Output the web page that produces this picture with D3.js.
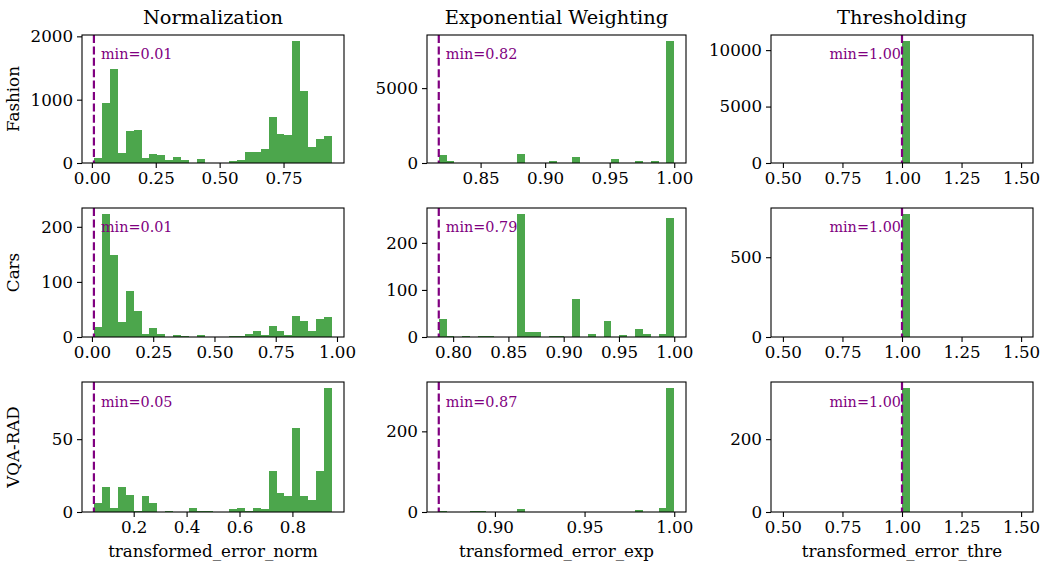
<!DOCTYPE html>
<html>
<head>
<meta charset="utf-8">
<script src="https://cdn.jsdelivr.net/npm/d3@7"></script>
<style>
	body { margin: 0; background: #fff; }
	svg { display: block; }
	text { font-family: "DejaVu Serif", serif; }
</style>
</head>
<body>
<div id="chart"></div>
<script>

/* --------------------- data ---------------------- */

let methods = ['Normalization', 'Exponential Weighting', 'Thresholding'];
let datasets = ['Fashion', 'Cars', 'VQA-RAD'];
let xLabels = ['transformed_error_norm', 'transformed_error_exp', 'transformed_error_thre'];

// histogram counts, 30 bins each
let fashionNorm = [80, 940, 1490, 160, 500, 520, 80, 150, 130, 40, 95, 40, 5, 60, 5, 5, 5, 25, 40, 170, 170, 220, 730, 465, 440, 1925, 1140, 260, 375, 420];
let fashionExp = [510, 110, 0, 0, 0, 0, 0, 0, 0, 0, 575, 0, 0, 0, 110, 0, 0, 376, 0, 0, 0, 0, 245, 0, 0, 110, 0, 110, 0, 8140];
let fashionThre = [0, 0, 0, 0, 0, 0, 0, 0, 0, 0, 0, 0, 0, 0, 0, 10800, 0, 0, 0, 0, 0, 0, 0, 0, 0, 0, 0, 0, 0, 0];

let carsNorm = [18, 223, 148, 27, 84, 47, 5, 16, 5, 0, 3, 2, 0, 3, 0, 0, 0, 1, 1, 5, 10, 4, 20, 10, 3, 38, 29, 10, 32, 36];
let carsExp = [38, 2, 0, 2, 0, 2, 2, 0, 0, 0, 261, 10, 10, 0, 2, 2, 0, 81, 0, 6, 0, 34, 0, 4, 0, 16, 6, 0, 6, 252];
let carsThre = [0, 0, 0, 0, 0, 0, 0, 0, 0, 0, 0, 0, 0, 0, 0, 770, 0, 0, 0, 0, 0, 0, 0, 0, 0, 0, 0, 0, 0, 0];

let vqaNorm = [6, 17, 3, 17, 12, 1, 11, 6, 0, 1, 0, 0, 3, 1, 1, 0, 0, 2, 3, 1, 3, 2, 28, 13, 11, 58, 11, 8, 28, 85];
let vqaExp = [2, 0, 0, 0, 2, 2, 0, 0, 0, 0, 7, 0, 0, 0, 0, 0, 0, 1, 1, 0, 0, 1, 1, 1, 1, 4, 0, 0, 10, 307];
let vqaThre = [0, 0, 0, 0, 0, 0, 0, 0, 0, 0, 0, 0, 0, 0, 0, 340, 0, 0, 0, 0, 0, 0, 0, 0, 0, 0, 0, 0, 0, 0];

// histogram range [lo, hi] of each panel (row by row)
let binRanges = [
	[0.008, 0.940], [0.8176, 1.0], [0.5, 1.5],
	[0.008, 0.980], [0.787, 1.0], [0.5, 1.5],
	[0.0496, 0.950], [0.8687, 1.0], [0.5, 1.5]
];
// smallest value in each panel (purple line)
let minValues = [0.008, 0.8176, 1.0, 0.008, 0.787, 1.0, 0.0496, 0.8687, 1.0];

// tick labels
let xTicks = [
	[0, 0.25, 0.5, 0.75], [0.85, 0.9, 0.95, 1.0], [0.5, 0.75, 1.0, 1.25, 1.5],
	[0, 0.25, 0.5, 0.75, 1.0], [0.8, 0.85, 0.9, 0.95, 1.0], [0.5, 0.75, 1.0, 1.25, 1.5],
	[0.2, 0.4, 0.6, 0.8], [0.9, 0.95, 1.0], [0.5, 0.75, 1.0, 1.25, 1.5]
];
let xTickFormats = ['.2f', '.2f', '.2f', '.2f', '.2f', '.2f', '.1f', '.2f', '.2f'];
let yTicks = [
	[0, 1000, 2000], [0, 5000], [0, 5000, 10000],
	[0, 100, 200], [0, 100, 200], [0, 500],
	[0, 50], [0, 200], [0, 200]
];

let counts = [fashionNorm, fashionExp, fashionThre, carsNorm, carsExp, carsThre, vqaNorm, vqaExp, vqaThre];

/* --------------------- layout ---------------------- */

let width = 1042;
let height = 562;
let colX = [[82, 344], [427, 686], [771, 1033]];
let rowY = [[35, 163], [208, 337], [382, 512]];

let svg = d3.select('#chart')
	.append('svg')
	.attr('width', width)
	.attr('height', height);

for (let i = 0; i < 9; i++) {
	let row = Math.floor(i / 3);
	let col = i % 3;
	let x0 = colX[col][0], x1 = colX[col][1];
	let y0 = rowY[row][0], y1 = rowY[row][1];

	let lo = binRanges[i][0], hi = binRanges[i][1];
	let pad = (hi - lo) * 0.05;
	let nBins = counts[i].length;
	let binW = (hi - lo) / nBins;

	let x = d3.scaleLinear().domain([lo - pad, hi + pad]).range([x0, x1]);
	let y = d3.scaleLinear().domain([0, d3.max(counts[i]) * 1.05]).range([y1, y0]);

	let g = svg.append('g');

	// bars
	g.selectAll('rect.bar')
		.data(counts[i])
		.enter().append('rect')
		.classed('bar', true)
		.attr('x', (d, k) => x(lo + k * binW))
		.attr('width', (d, k) => x(lo + (k + 1) * binW) - x(lo + k * binW))
		.attr('y', d => y(d))
		.attr('height', d => y(0) - y(d))
		.attr('fill', 'green')
		.attr('fill-opacity', 0.7)
		.attr('shape-rendering', 'crispEdges');

	// dashed line at the minimum
	let mx = x(minValues[i]);
	g.append('line')
		.attr('x1', mx).attr('x2', mx)
		.attr('y1', y0).attr('y2', y1)
		.attr('stroke', 'purple')
		.attr('stroke-width', 2.2)
		.attr('stroke-dasharray', '8,3.4');

	let thre = col === 2;
	g.append('text')
		.attr('x', thre ? mx - 1 : mx + 7)
		.attr('y', y0 + (y1 - y0) * 0.15)
		.attr('dy', '0.35em')
		.attr('text-anchor', thre ? 'end' : 'start')
		.attr('fill', 'purple')
		.style('font-size', '14.4px')
		.text('min=' + d3.format('.2f')(minValues[i]));

	// axes
	let xAxis = d3.axisBottom(x)
		.tickValues(xTicks[i])
		.tickFormat(d3.format(xTickFormats[i]))
		.tickSizeOuter(0)
		.tickSize(5)
		.tickPadding(4);
	let yAxis = d3.axisLeft(y)
		.tickValues(yTicks[i])
		.tickFormat(d3.format('d'))
		.tickSizeOuter(0)
		.tickSize(5)
		.tickPadding(4);

	let gx = g.append('g').attr('transform', 'translate(0,' + y1 + ')').call(xAxis);
	let gy = g.append('g').attr('transform', 'translate(' + x0 + ',0)').call(yAxis);
	[gx, gy].forEach(a => {
		a.select('.domain').remove();
		a.selectAll('text').style('font-size', '16.7px').attr('fill', '#000').style('font-family', '"DejaVu Serif", serif');
		a.selectAll('line').attr('stroke', '#000').attr('stroke-width', 1.1);
	});

	// frame
	g.append('rect')
		.attr('x', x0).attr('y', y0)
		.attr('width', x1 - x0).attr('height', y1 - y0)
		.attr('fill', 'none')
		.attr('stroke', '#000')
		.attr('stroke-width', 1.1);

	if (row === 0) {
		svg.append('text')
			.attr('x', (x0 + x1) / 2)
			.attr('y', y0 - 11)
			.attr('text-anchor', 'middle')
			.style('font-size', '19.4px')
			.text(methods[col]);
	}
	if (row === 2) {
		svg.append('text')
			.attr('x', (x0 + x1) / 2)
			.attr('y', 557)
			.attr('text-anchor', 'middle')
			.style('font-size', '16.7px')
			.text(xLabels[col]);
	}
	if (col === 0) {
		svg.append('text')
			.attr('transform', 'translate(19,' + ((y0 + y1) / 2) + ') rotate(-90)')
			.attr('text-anchor', 'middle')
			.style('font-size', '16.7px')
			.text(datasets[row]);
	}
}
</script>
</body>
</html>
